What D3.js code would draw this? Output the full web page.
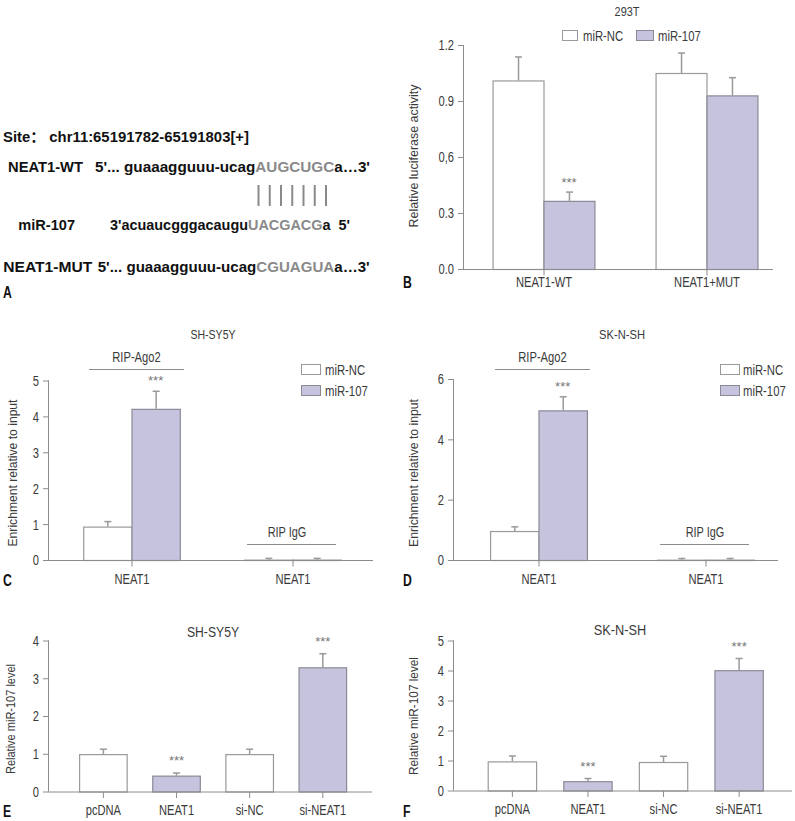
<!DOCTYPE html>
<html>
<head>
<meta charset="utf-8">
<script src="https://cdn.jsdelivr.net/npm/d3@7"></script>
<style>
  html, body { margin: 0; padding: 0; background: #fff; }
  svg { display: block; }
  text { font-family: "Liberation Sans", Arial, "Noto Sans CJK SC", sans-serif; }
</style>
</head>
<body>
<svg id="chart" width="795" height="821"></svg>
<script>
// ---------- DATA ----------
// Panel A (sequence alignment)
const siteText = "Site\uFF1A chr11:65191782-65191803[+]";
const seqRows = [
  { name: "NEAT1-WT", pre: "5'... guaaagguuu-ucag", seed: "AUGCUGC", post: "a\u20263'" },
  { name: "miR-107", pre: "3'acuaucgggacaugu", seed: "UACGACG", post: "a  5'" },
  { name: "NEAT1-MUT", pre: "5'... guaaagguuu-ucag", seed: "CGUAGUA", post: "a\u20263'" }
];
const pairCount = 7;

// Panel B (293T luciferase)
const bCategories = ["NEAT1-WT", "NEAT1+MUT"];
const bNC = [1.01, 1.05];
const bNCErr = [0.126, 0.107];
const bMiR = [0.365, 0.93];
const bMiRErr = [0.047, 0.095];
const bTicks = [0, 0.3, 0.6, 0.9, 1.2];
const bTickLabels = ["0.0", "0.3", "0,6", "0.9", "1.2"];

// Panel C (SH-SY5Y RIP)
const cCategories = ["NEAT1", "NEAT1"];
const cNC = [0.93, 0.01];
const cNCErr = [0.14, 0.035];
const cMiR = [4.21, 0.01];
const cMiRErr = [0.49, 0.035];
const cTicks = [0, 1, 2, 3, 4, 5];

// Panel D (SK-N-SH RIP)
const dCategories = ["NEAT1", "NEAT1"];
const dNC = [0.96, 0.01];
const dNCErr = [0.14, 0.04];
const dMiR = [4.96, 0.01];
const dMiRErr = [0.45, 0.04];
const dTicks = [0, 2, 4, 6];

// Panel E (SH-SY5Y miR-107 level)
const eCategories = ["pcDNA", "NEAT1", "si-NC", "si-NEAT1"];
const eValues = [0.99, 0.42, 0.99, 3.29];
const eErr = [0.13, 0.07, 0.13, 0.36];
const eTicks = [0, 1, 2, 3, 4];

// Panel F (SK-N-SH miR-107 level)
const fCategories = ["pcDNA", "NEAT1", "si-NC", "si-NEAT1"];
const fValues = [0.97, 0.31, 0.95, 4.01];
const fErr = [0.18, 0.09, 0.19, 0.39];
const fTicks = [0, 1, 2, 3, 4, 5];

const seriesNames = ["miR-NC", "miR-107"];
const sigE = [false, true, false, true];
const sigF = [false, true, false, true];

// ---------- STYLE ----------
const PURPLE = "#c6c3df";
const PURPLE_STROKE = "#8a8a96";
const WHITE_STROKE = "#9a9a9a";
const AXIS = "#8c8c8c";
const TEXT = "#3a3a3a";
const ERR = "#9a9a9a";

const svg = d3.select("#chart");

// condensed text helper: scales Liberation Sans horizontally
function ctext(g, o) {
  const rot = o.rotate ? " rotate(-90)" : "";
  const t = g.append("text")
    .attr("transform", `translate(${o.x},${o.y})${rot} scale(${o.sx || 1},1)`)
    .attr("text-anchor", o.anchor || "middle")
    .attr("font-size", o.size || 14)
    .attr("fill", o.fill || TEXT)
    .text(o.text);
  if (o.central) t.attr("dominant-baseline", "central");
  if (o.weight) t.attr("font-weight", o.weight);
  if (o.len) t.attr("textLength", o.len).attr("lengthAdjust", "spacingAndGlyphs");
  return t;
}

// ---------- PANEL A ----------
const gA = svg.append("g");
gA.append("text").attr("x", 3).attr("y", 142).attr("font-weight", "bold")
  .attr("font-size", 14.5).attr("fill", "#111")
  .attr("textLength", 246).attr("lengthAdjust", "spacingAndGlyphs").text(siteText);

const rowY = [172, 230, 272];
const rowNameX = [8, 18.3, 3.3];
const rowNameW = [75, 56.7, 89];
const rowPreX = [95, 110, 97.7];
const rowSeqW = [275, 240, 272];
seqRows.forEach((r, i) => {
  gA.append("text").attr("x", rowNameX[i]).attr("y", rowY[i]).attr("font-weight", "bold")
    .attr("font-size", 14.5).attr("fill", "#111")
    .attr("textLength", rowNameW[i]).attr("lengthAdjust", "spacingAndGlyphs").text(r.name);
  const t = gA.append("text").attr("x", rowPreX[i]).attr("y", rowY[i]).attr("font-weight", "bold")
    .attr("font-size", 14.5).attr("fill", "#111").attr("xml:space", "preserve")
    .attr("textLength", rowSeqW[i]).attr("lengthAdjust", "spacingAndGlyphs");
  t.append("tspan").text(r.pre);
  t.append("tspan").attr("fill", "#8a8a8a").text(r.seed);
  t.append("tspan").text(r.post);
});
const pairX = d3.scaleLinear().domain([0, pairCount - 1]).range([258.5, 326]);
gA.selectAll("line.pair").data(d3.range(pairCount)).join("line")
  .attr("x1", d => pairX(d)).attr("x2", d => pairX(d))
  .attr("y1", 185).attr("y2", 206)
  .attr("stroke", "#8a8a8a").attr("stroke-width", 2);
ctext(gA, { x: 3, y: 298, text: "A", size: 17, sx: 0.72, anchor: "start", weight: "bold", fill: "#111" });

// ---------- helpers ----------
function panelLabel(x, y, txt) {
  ctext(svg, { x, y, text: txt, size: 17, sx: 0.72, anchor: "start", weight: "bold", fill: "#111" });
}

function yAxis(g, y, x0, ticks, labels) {
  const ax = d3.axisLeft(y).tickValues(ticks).tickSize(6).tickPadding(5)
    .tickFormat((d, i) => labels ? labels[i] : d);
  const a = g.append("g").attr("transform", `translate(${x0},0)`).call(ax);
  a.select(".domain").attr("stroke", AXIS).attr("d", `M-0.5,${y(ticks[ticks.length - 1])}V${y(0)}`);
  a.selectAll(".tick line").attr("stroke", AXIS);
  a.selectAll(".tick text")
    .attr("font-family", "Liberation Sans, Arial, sans-serif")
    .attr("font-size", 15.5).attr("fill", TEXT)
    .attr("x", -10 / 0.72).attr("transform", "scale(0.72,1)");
  return a;
}

function xAxisLine(g, y0, x0, x1) {
  g.append("line").attr("x1", x0).attr("x2", x1).attr("y1", y0).attr("y2", y0)
    .attr("stroke", AXIS).attr("stroke-width", 1);
}

function catLabel(g, cx, y, txt) {
  ctext(g, { x: cx, y, text: txt, size: 15.5, sx: 0.72 });
}

function yLabel(g, cx, cy, txt, len) {
  ctext(g, { x: cx, y: cy, text: txt, size: 13.5, rotate: true, central: true, len });
}

function title(g, cx, cy, txt, size, sx) {
  ctext(g, { x: cx, y: cy, text: txt, size, sx, central: true });
}

function drawBars(g, data, y) {
  g.selectAll(null).data(data).join("rect")
    .attr("x", d => d.x + 0.5).attr("width", d => d.w)
    .attr("y", d => y(d.v) + 0.5).attr("height", d => Math.max(0, y(0) - y(d.v)))
    .attr("fill", d => d.purple ? PURPLE : "#fff")
    .attr("stroke", d => d.purple ? PURPLE_STROKE : WHITE_STROKE).attr("stroke-width", 1.2);
  g.selectAll(null).data(data).join("line")
    .attr("x1", d => d.x + d.w / 2 + 0.5).attr("x2", d => d.x + d.w / 2 + 0.5)
    .attr("y1", d => y(d.v)).attr("y2", d => y(d.v + d.e))
    .attr("stroke", ERR).attr("stroke-width", 1.5);
  g.selectAll(null).data(data).join("line")
    .attr("x1", d => d.x + d.w / 2 - 3).attr("x2", d => d.x + d.w / 2 + 4)
    .attr("y1", d => y(d.v + d.e)).attr("y2", d => y(d.v + d.e))
    .attr("stroke", ERR).attr("stroke-width", 1.5);
}

function stars(g, cx, cy) {
  ctext(g, { x: cx, y: cy + 4, text: "***", size: 13, sx: 1, fill: "#777" });
}

function legendItem(g, x, y, w, h, purple, txt, tx) {
  g.append("rect").attr("x", x + 0.5).attr("y", y + 0.5).attr("width", w).attr("height", h)
    .attr("fill", purple ? PURPLE : "#fff").attr("stroke", purple ? PURPLE_STROKE : WHITE_STROKE);
  ctext(g, { x: tx, y: y + h / 2 + 0.5, text: txt, size: 14.5, sx: 0.78, anchor: "start", central: true });
}

function groupedPanel(opts) {
  const g = svg.append("g");
  const y = d3.scaleLinear().domain([0, opts.ymax]).range([opts.y0, opts.y1]);
  const idx = opts.categories.map((d, i) => i);
  const x = d3.scaleBand().domain(idx).range(opts.xr).paddingInner(opts.pad).paddingOuter(opts.pad / 2);
  const sub = d3.scaleBand().domain([0, 1]).range([0, x.bandwidth()]);
  const data = [];
  idx.forEach(i => {
    data.push({ x: x(i) + sub(0), w: sub.bandwidth(), v: opts.nc[i], e: opts.ncErr[i], purple: false });
    data.push({ x: x(i) + sub(1), w: sub.bandwidth(), v: opts.mir[i], e: opts.mirErr[i], purple: true });
  });
  drawBars(g, data, y);
  xAxisLine(g, opts.y0 + 0.5, opts.axisX, opts.axisEnd);
  yAxis(g, y, opts.axisX, opts.ticks, opts.tickLabels);
  idx.forEach(i => {
    const cx = x(i) + x.bandwidth() / 2 + 0.5;
    g.append("line").attr("x1", cx).attr("x2", cx).attr("y1", opts.y0 + 0.5).attr("y2", opts.y0 + 6.5).attr("stroke", AXIS);
    catLabel(g, cx, opts.labelY, opts.categories[i]);
  });
  return { g, x, y, sub, data };
}

function simplePanel(opts) {
  const g = svg.append("g");
  const y = d3.scaleLinear().domain([0, opts.ymax]).range([opts.y0, opts.y1]);
  const x = d3.scaleBand().domain(opts.categories).range(opts.xr).padding(opts.pad);
  const data = opts.categories.map((c, i) => ({
    x: x(c), w: x.bandwidth(), v: opts.values[i], e: opts.err[i], purple: i % 2 === 1
  }));
  drawBars(g, data, y);
  xAxisLine(g, opts.y0 + 0.5, opts.axisX, opts.axisEnd);
  yAxis(g, y, opts.axisX, opts.ticks, null);
  opts.categories.forEach((c, i) => {
    const cx = x(c) + x.bandwidth() / 2 + 0.5;
    g.append("line").attr("x1", cx).attr("x2", cx).attr("y1", opts.y0 + 0.5).attr("y2", opts.y0 + 6.5).attr("stroke", AXIS);
    catLabel(g, cx, opts.labelY, c);
    if (opts.sig[i]) stars(g, cx, y(opts.values[i] + opts.err[i]) - 12);
  });
  return { g, x, y };
}

// ---------- PANEL B ----------
const pB = groupedPanel({
  categories: bCategories, nc: bNC, ncErr: bNCErr, mir: bMiR, mirErr: bMiRErr,
  ymax: 1.2, y0: 269, y1: 45, xr: [462, 788], pad: 0.375,
  axisX: 464, axisEnd: 773, ticks: bTicks, tickLabels: bTickLabels, labelY: 287
});
stars(pB.g, pB.x(0) + pB.sub(1) + pB.sub.bandwidth() / 2, pB.y(bMiR[0] + bMiRErr[0]) - 9);
title(pB.g, 627, 12, "293T", 13, 0.84);
legendItem(pB.g, 562, 30, 15, 10, false, seriesNames[0], 583);
legendItem(pB.g, 636, 30, 17, 10, true, seriesNames[1], 658);
yLabel(pB.g, 413, 156, "Relative luciferase activity", 143);
panelLabel(403, 288, "B");

// ---------- PANEL C ----------
const pC = groupedPanel({
  categories: cCategories, nc: cNC, ncErr: cNCErr, mir: cMiR, mirErr: cMiRErr,
  ymax: 5, y0: 560, y1: 380.5, xr: [51, 373], pad: 0.4,
  axisX: 49, axisEnd: 373, ticks: cTicks, tickLabels: null, labelY: 584
});
stars(pC.g, pC.x(0) + pC.sub(1) + pC.sub.bandwidth() / 2, pC.y(cMiR[0] + cMiRErr[0]) - 10);
title(pC.g, 213, 335, "SH-SY5Y", 13, 0.81);
pC.g.append("line").attr("x1", 89).attr("x2", 184).attr("y1", 369.5).attr("y2", 369.5).attr("stroke", AXIS);
title(pC.g, 136.5, 358, "RIP-Ago2", 14, 0.8);
pC.g.append("line").attr("x1", 247).attr("x2", 336).attr("y1", 544.5).attr("y2", 544.5).attr("stroke", AXIS);
title(pC.g, 287, 533, "RIP IgG", 14, 0.78);
legendItem(pC.g, 301, 364, 19, 10, false, seriesNames[0], 325);
legendItem(pC.g, 301, 385, 19, 10, true, seriesNames[1], 325);
yLabel(pC.g, 12, 473, "Enrichment relative to input", 147);
panelLabel(3, 586, "C");

// ---------- PANEL D ----------
const pD = groupedPanel({
  categories: dCategories, nc: dNC, ncErr: dNCErr, mir: dMiR, mirErr: dMiRErr,
  ymax: 6, y0: 560, y1: 379, xr: [455, 789], pad: 0.42,
  axisX: 454, axisEnd: 778, ticks: dTicks, tickLabels: null, labelY: 584
});
stars(pD.g, pD.x(0) + pD.sub(1) + pD.sub.bandwidth() / 2, pD.y(dMiR[0] + dMiRErr[0]) - 10);
title(pD.g, 622, 335, "SK-N-SH", 13, 0.86);
pD.g.append("line").attr("x1", 495).attr("x2", 590).attr("y1", 369.5).attr("y2", 369.5).attr("stroke", AXIS);
title(pD.g, 542.5, 358, "RIP-Ago2", 14, 0.8);
pD.g.append("line").attr("x1", 660).attr("x2", 749).attr("y1", 544.5).attr("y2", 544.5).attr("stroke", AXIS);
title(pD.g, 705, 533, "RIP IgG", 14, 0.78);
legendItem(pD.g, 720, 364, 19, 10, false, seriesNames[0], 743);
legendItem(pD.g, 720, 385, 19, 10, true, seriesNames[1], 743);
yLabel(pD.g, 413, 473, "Enrichment relative to input", 148);
panelLabel(403, 586, "D");

// ---------- PANEL E ----------
const pE = simplePanel({
  categories: eCategories, values: eValues, err: eErr, sig: sigE,
  ymax: 4, y0: 791.5, y1: 640.5, xr: [53.5, 371.7], pad: 0.35,
  axisX: 49, axisEnd: 372, ticks: eTicks, labelY: 815
});
title(pE.g, 213, 632, "SH-SY5Y", 14.5, 0.84);
yLabel(pE.g, 10, 719, "Relative miR-107 level", 110);
panelLabel(3, 817, "E");

// ---------- PANEL F ----------
const pF = simplePanel({
  categories: fCategories, values: fValues, err: fErr, sig: sigF,
  ymax: 5, y0: 790.5, y1: 640.5, xr: [460.5, 790], pad: 0.36,
  axisX: 454, axisEnd: 792, ticks: fTicks, labelY: 814
});
title(pF.g, 620, 630, "SK-N-SH", 14.5, 0.88);
yLabel(pF.g, 413, 716, "Relative miR-107 level", 118);
panelLabel(403, 817, "F");
</script>
</body>
</html>
